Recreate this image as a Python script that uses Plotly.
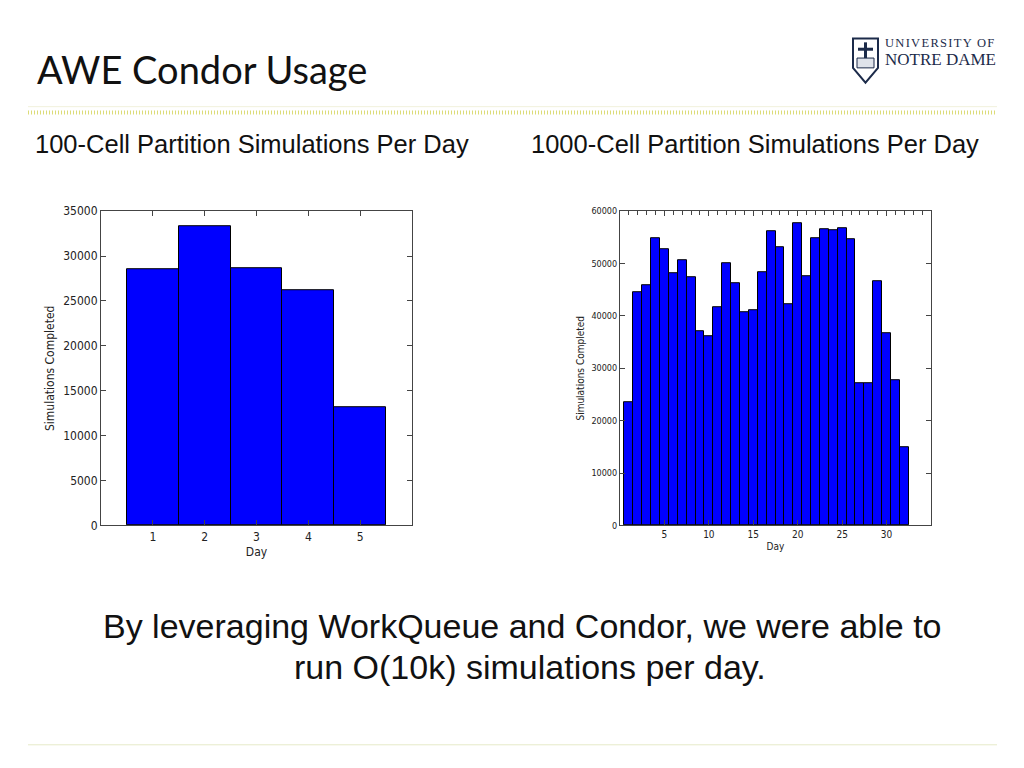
import plotly.graph_objects as go

# ---------------- data ----------------
days_100 = [1, 2, 3, 4, 5]
sims_100 = [28500, 33350, 28650, 26150, 13150]

days_1000 = list(range(1, 33))
sims_1000 = [23500, 44550, 45800, 54800, 52750, 48200, 50550, 47450,
             37000, 36050, 41750, 50100, 46250, 40700, 41000, 48300,
             56200, 53050, 42250, 57800, 47500, 54800, 56500, 56450,
             56750, 54700, 27100, 27100, 46550, 36700, 27700, 14950]

yticks_100 = [0, 5000, 10000, 15000, 20000, 25000, 30000, 35000]
yticks_1000 = [0, 10000, 20000, 30000, 40000, 50000, 60000]
xticks_1000 = [5, 10, 15, 20, 25, 30]
top_ticks_1000 = list(range(1, 35))

W, H = 1024, 768
def px(x): return x / W
def py(y): return 1 - y / H

chart_font = "DejaVu Sans Condensed, DejaVu Sans"

fig = go.Figure()
fig.add_trace(go.Bar(x=days_100, y=sims_100, width=[1] * len(days_100),
                     marker=dict(color="#0000ff", line=dict(color="#000000", width=1)),
                     xaxis="x", yaxis="y", showlegend=False))
fig.add_trace(go.Bar(x=days_1000, y=sims_1000, width=[1] * len(days_1000),
                     marker=dict(color="#0000ff", line=dict(color="#000000", width=1)),
                     xaxis="x2", yaxis="y2", showlegend=False))
fig.add_trace(go.Scatter(x=[None], y=[None], xaxis="x3", yaxis="y2",
                         showlegend=False, hoverinfo="skip"))

axis_common = dict(showline=True, linecolor="#444444", linewidth=1, mirror="ticks",
                   ticks="inside", ticklen=5, tickcolor="#444444", showgrid=False,
                   zeroline=False)

fig.update_layout(
    width=W, height=H, margin=dict(l=0, r=0, t=0, b=0),
    paper_bgcolor="white", plot_bgcolor="white", bargap=0,
    xaxis=dict(domain=[px(101), px(412)], anchor="y", range=[0, 6],
               tickvals=days_100, tickfont=dict(family=chart_font, size=12, color="#222"),
               title=dict(text="Day", font=dict(family=chart_font, size=12, color="#222"),
                          standoff=4),
               **axis_common),
    yaxis=dict(domain=[py(528), py(208)], anchor="x", range=[0, 35000],
               tickvals=yticks_100, tickformat="d",
               tickfont=dict(family=chart_font, size=12, color="#222"),
               title=dict(text="Simulations Completed",
                          font=dict(family=chart_font, size=12, color="#222"), standoff=6),
               **axis_common),
    xaxis2=dict(domain=[px(620), px(931)], anchor="y2", range=[0, 35],
                tickvals=xticks_1000, tickfont=dict(family=chart_font, size=10, color="#222"),
                title=dict(text="Day", font=dict(family=chart_font, size=10, color="#222"),
                           standoff=3),
                **axis_common),
    xaxis3=dict(overlaying="x2", anchor="y2", side="top", range=[0, 35],
                tickvals=top_ticks_1000, showticklabels=False, ticks="inside",
                ticklen=4, tickcolor="#444444", showgrid=False, zeroline=False,
                showline=False),
    yaxis2=dict(domain=[py(528), py(208)], anchor="x2", range=[0, 60000],
                tickvals=yticks_1000, tickformat="d",
                tickfont=dict(family=chart_font, size=9, color="#222"),
                title=dict(text="Simulations Completed",
                           font=dict(family=chart_font, size=10, color="#222"), standoff=4),
                **axis_common),
)

annotations = [
    dict(text="AWE Condor Usage", x=px(35), y=py(63), xanchor="left", yanchor="middle",
         font=dict(family="Lato", size=38, color="#111111")),
    dict(text="100-Cell Partition Simulations Per Day", x=px(252), y=py(140),
         xanchor="center", yanchor="middle",
         font=dict(family="Liberation Sans", size=25.5, color="#111111")),
    dict(text="1000-Cell Partition Simulations Per Day", x=px(755), y=py(140),
         xanchor="center", yanchor="middle",
         font=dict(family="Liberation Sans", size=25.5, color="#111111")),
    dict(text="By leveraging WorkQueue and Condor, we were able to", x=px(522), y=py(631),
         xanchor="center", yanchor="middle",
         font=dict(family="Liberation Sans", size=34, color="#111111")),
    dict(text="run O(10k) simulations per day.", x=px(530), y=py(672),
         xanchor="center", yanchor="middle",
         font=dict(family="Liberation Sans", size=34, color="#111111")),
    dict(text='<span style="letter-spacing:1.3px">UNIVERSITY OF</span>', x=px(998), y=py(37),
         xanchor="right", yanchor="middle",
         font=dict(family="Liberation Serif", size=12.5, color="#1c2b4a")),
    dict(text="NOTRE DAME", x=px(998), y=py(53), xanchor="right", yanchor="middle",
         font=dict(family="Liberation Serif", size=17, color="#1c2b4a")),
]
for a in annotations:
    a.update(xref="paper", yref="paper", showarrow=False)
fig.update_layout(annotations=annotations)

# decorative slide elements
def ppath(points):
    s = ""
    for i, (x, y) in enumerate(points):
        s += ("M" if i == 0 else "L") + f"{px(x):.5f},{py(y):.5f} "
    return s + "Z"

shapes = [
    dict(type="line", x0=px(28), x1=px(997), y0=py(101.5), y1=py(101.5),
         line=dict(color="#f2f2dc", width=1)),
    dict(type="line", x0=px(28), x1=px(997), y0=py(107.5), y1=py(107.5),
         line=dict(color="#dcdc78", width=4, dash="1px,2px")),
    dict(type="line", x0=px(28), x1=px(997), y0=py(751.5), y1=py(751.5),
         line=dict(color="#e6eac8", width=1)),
    # shield
    dict(type="path", path=ppath([(853, 32), (878, 32), (878, 62), (865.5, 77), (853, 62)]),
         line=dict(color="#1c2b4a", width=2), fillcolor="white"),
    dict(type="line", x0=px(865.5), x1=px(865.5), y0=py(36), y1=py(58),
         line=dict(color="#1c2b4a", width=3)),
    dict(type="line", x0=px(858), x1=px(873), y0=py(43), y1=py(43),
         line=dict(color="#1c2b4a", width=3)),
    dict(type="rect", x0=px(857), x1=px(874), y0=py(62), y1=py(52),
         line=dict(color="#1c2b4a", width=1), fillcolor="#dfe3ea"),
]
for s in shapes:
    s.update(xref="paper", yref="paper")
fig.update_layout(shapes=shapes)

post = (
    "document.documentElement.style.margin='0';"
    "document.body.style.margin='0';document.body.style.padding='0';"
    "document.body.style.overflow='hidden';"
    "document.documentElement.style.overflow='hidden';"
)
fig.write_html("out.html", config={"displayModeBar": False}, post_script=post)
